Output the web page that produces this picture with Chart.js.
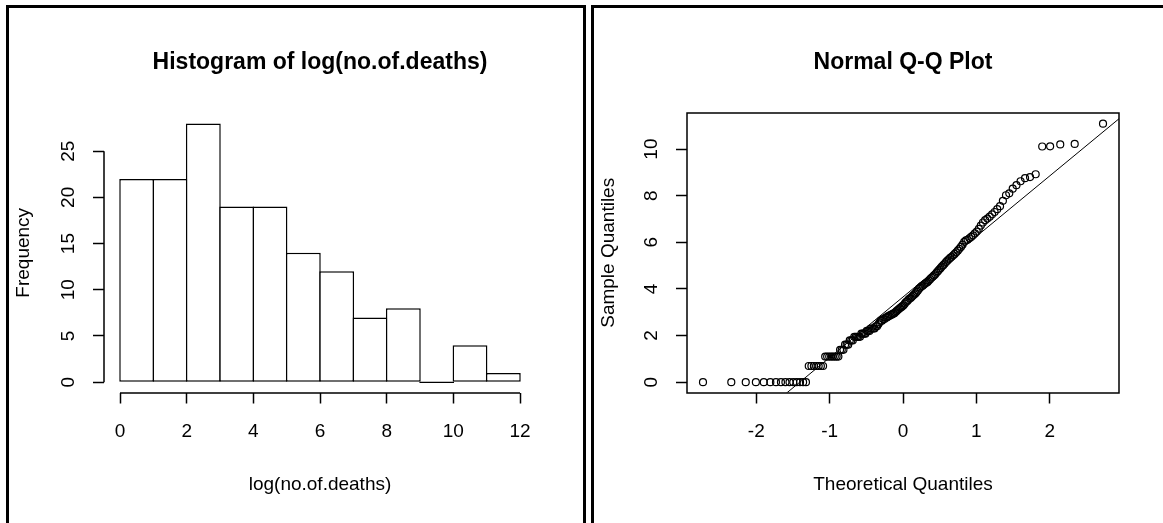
<!DOCTYPE html>
<html>
<head>
<meta charset="utf-8">
<script src="https://cdn.jsdelivr.net/npm/chart.js@4/dist/chart.umd.min.js"></script>
<style>
  html, body { margin: 0; padding: 0; background: #fff; overflow: hidden; }
  body { width: 1163px; height: 523px; position: relative; }
  .panel { position: absolute; top: 5px; height: 620px; border: 3px solid #000; box-sizing: border-box; }
  #panel-left { left: 6px; width: 580px; }
  #panel-right { left: 591px; width: 640px; }
  canvas { position: absolute; }
  #hist { left: 9px; top: 8px; }
  #qq { left: 594px; top: 8px; }
</style>
</head>
<body>
<div class="panel" id="panel-left"></div>
<div class="panel" id="panel-right"></div>
<canvas id="hist" width="574" height="515"></canvas>
<canvas id="qq" width="569" height="515"></canvas>
<script>
// histogram of log(no.of.deaths), bins of width 1
const binMids = [0.5, 1.5, 2.5, 3.5, 4.5, 5.5, 6.5, 7.5, 8.5, 9.5, 10.5, 11.5];
const frequency = [22, 22, 28, 19, 19, 14, 12, 7, 8, 0, 4, 1];
const histXTicks = [0, 2, 4, 6, 8, 10, 12];
const histYTicks = [0, 5, 10, 15, 20, 25];

// normal Q-Q plot (156 obs), theoretical vs sorted sample quantiles
const theoreticalQ = [
  -2.727, -2.341, -2.144, -2.006, -1.898, -1.809, -1.732, -1.664, -1.603, -1.547,
  -1.496, -1.449, -1.404, -1.362, -1.323, -1.285, -1.249, -1.215, -1.182, -1.150,
  -1.120, -1.090, -1.061, -1.034, -1.006, -0.980, -0.955, -0.930, -0.905, -0.881,
  -0.858, -0.835, -0.812, -0.790, -0.768, -0.747, -0.726, -0.705, -0.685, -0.664,
  -0.644, -0.625, -0.605, -0.586, -0.567, -0.549, -0.530, -0.512, -0.494, -0.476,
  -0.458, -0.440, -0.423, -0.405, -0.388, -0.370, -0.353, -0.336, -0.319, -0.302,
  -0.286, -0.269, -0.252, -0.236, -0.219, -0.203, -0.186, -0.170, -0.153, -0.137,
  -0.121, -0.105, -0.089, -0.072, -0.056, -0.040, -0.024, -0.008,
  0.008, 0.024, 0.040, 0.056, 0.072, 0.089, 0.105, 0.121, 0.137, 0.153,
  0.170, 0.186, 0.203, 0.219, 0.236, 0.252, 0.269, 0.286, 0.302, 0.319,
  0.336, 0.353, 0.370, 0.388, 0.405, 0.423, 0.440, 0.458, 0.476, 0.494,
  0.512, 0.530, 0.549, 0.567, 0.586, 0.605, 0.625, 0.644, 0.664, 0.685,
  0.705, 0.726, 0.747, 0.768, 0.790, 0.812, 0.835, 0.858, 0.881, 0.905,
  0.930, 0.955, 0.980, 1.006, 1.034, 1.061, 1.090, 1.120, 1.150, 1.182,
  1.215, 1.249, 1.285, 1.323, 1.362, 1.404, 1.449, 1.496, 1.547, 1.603,
  1.664, 1.732, 1.809, 1.898, 2.006, 2.144, 2.341, 2.727
];
const sampleQ = [
  0, 0, 0, 0, 0, 0, 0, 0, 0, 0, 0, 0, 0, 0, 0,
  0.693, 0.693, 0.693, 0.693, 0.693, 0.693, 0.693,
  1.099, 1.099, 1.099, 1.099, 1.099, 1.099, 1.099, 1.099,
  1.386, 1.386, 1.386, 1.609, 1.609, 1.609, 1.792, 1.792, 1.792,
  1.946, 1.946, 1.946, 1.946, 1.946,
  2.079, 2.079, 2.079, 2.079, 2.197, 2.197, 2.197, 2.303, 2.303, 2.303, 2.303,
  2.398, 2.398, 2.485, 2.565, 2.639, 2.639, 2.708, 2.708, 2.773, 2.773,
  2.833, 2.833, 2.890, 2.890, 2.944, 2.944, 2.996,
  3.045, 3.091, 3.135, 3.178, 3.219, 3.258, 3.296, 3.367, 3.434, 3.466,
  3.526, 3.584, 3.611, 3.664, 3.714, 3.761, 3.807, 3.871, 3.932,
  4.01, 4.06, 4.11, 4.14, 4.19, 4.23, 4.26, 4.30, 4.36, 4.42,
  4.48, 4.52, 4.58, 4.63, 4.70, 4.76, 4.83, 4.89, 4.96,
  5.02, 5.08, 5.15, 5.21, 5.27, 5.33, 5.38, 5.44, 5.50, 5.57, 5.64, 5.72, 5.80, 5.90,
  6.02, 6.08, 6.11, 6.17, 6.23, 6.30, 6.38, 6.46, 6.58, 6.72, 6.85, 6.95,
  7.02, 7.10, 7.20, 7.30, 7.42, 7.55, 7.78,
  8.02, 8.10, 8.30, 8.45, 8.62, 8.75, 8.80, 8.92,
  10.11, 10.12, 10.20, 10.22,
  11.09
];
// qqline end points (intercept 3.654, slope 2.597)
const qqLineX = [-3.2, 3.2];
const qqLineY = [-4.656, 11.964];
const qqXTicks = [-2, -1, 0, 1, 2];
const qqYTicks = [0, 2, 4, 6, 8, 10];

const FONT = "'Liberation Sans', Arial, Helvetica, sans-serif";
const ink = '#000';
const lw = 1.5;

// R-style axes: line only from first to last tick, or a full box
const rAxisLines = {
  id: 'rAxisLines',
  afterDraw(chart, args, opts) {
    const { ctx, chartArea: a, scales: { x, y } } = chart;
    const left = Math.round(a.left);
    const bottom = Math.round(a.bottom);
    ctx.save();
    ctx.strokeStyle = ink;
    ctx.lineWidth = lw;
    ctx.beginPath();
    if (opts.box) {
      const right = Math.round(a.right);
      const top = Math.round(a.top);
      ctx.rect(left, top, right - left, bottom - top);
    } else {
      const xt = x.ticks, yt = y.ticks;
      ctx.moveTo(left, y.getPixelForValue(yt[0].value));
      ctx.lineTo(left, y.getPixelForValue(yt[yt.length - 1].value));
      ctx.moveTo(x.getPixelForValue(xt[0].value), bottom);
      ctx.lineTo(x.getPixelForValue(xt[xt.length - 1].value), bottom);
    }
    ctx.stroke();
    ctx.restore();
  }
};

function xAxis(min, max, ticks, title) {
  return {
    type: 'linear', min: min, max: max, offset: false,
    afterBuildTicks: s => { s.ticks = ticks.map(v => ({ value: v })); },
    afterFit: s => { s.height = 130.5; },
    border: { display: false },
    grid: { drawOnChartArea: false, drawTicks: true, tickLength: 11, tickColor: ink, tickWidth: lw, offset: false },
    ticks: { color: ink, autoSkip: false, maxRotation: 0, minRotation: 0, padding: 17,
             font: { family: FONT, size: 19 } },
    title: { display: true, text: title, color: ink, padding: { top: 0, bottom: 26.6 },
             font: { family: FONT, size: 19 } }
  };
}

function yAxis(min, max, ticks, title, width) {
  return {
    type: 'linear', min: min, max: max,
    afterBuildTicks: s => { s.ticks = ticks.map(v => ({ value: v })); },
    afterFit: s => { s.width = width; },
    border: { display: false },
    grid: { drawOnChartArea: false, drawTicks: true, tickLength: 11, tickColor: ink, tickWidth: lw },
    ticks: { color: ink, minRotation: 90, maxRotation: 90, crossAlign: 'center', padding: 13.5,
             font: { family: FONT, size: 19 } },
    title: { display: true, text: title, color: ink, padding: { top: 3.6, bottom: 0 },
             font: { family: FONT, size: 19 } }
  };
}

function mainTitle(text) {
  return { display: true, text: text, color: ink, fullSize: false,
           padding: { top: 40.5, bottom: 37 },
           font: { family: FONT, size: 23, weight: 'bold' } };
}

new Chart(document.getElementById('hist'), {
  type: 'bar',
  data: {
    datasets: [{
      data: binMids.map((m, i) => ({ x: m, y: frequency[i] })),
      backgroundColor: '#fff',
      borderColor: ink,
      borderWidth: lw,
      borderSkipped: false,
      barPercentage: 1.045,
      categoryPercentage: 1,
      minBarLength: 1.5
    }]
  },
  options: {
    responsive: false,
    animation: false,
    events: [],
    layout: { padding: { left: 0, top: 0, right: 47, bottom: 0 } },
    plugins: {
      legend: { display: false },
      tooltip: { enabled: false },
      title: mainTitle('Histogram of log(no.of.deaths)'),
      rAxisLines: { box: false }
    },
    scales: {
      x: xAxis(-0.48, 12.48, histXTicks, 'log(no.of.deaths)'),
      y: yAxis(-1.12, 29.12, histYTicks, 'Frequency', 95)
    }
  },
  plugins: [rAxisLines]
});

new Chart(document.getElementById('qq'), {
  type: 'scatter',
  data: {
    datasets: [{
      type: 'scatter',
      data: theoreticalQ.map((t, i) => ({ x: t, y: sampleQ[i] })),
      pointStyle: 'circle',
      pointRadius: 3.5,
      pointBorderWidth: 1.2,
      pointBorderColor: ink,
      pointBackgroundColor: 'rgba(0,0,0,0)',
      borderColor: ink,
      backgroundColor: 'rgba(0,0,0,0)'
    }, {
      type: 'line',
      data: qqLineX.map((t, i) => ({ x: t, y: qqLineY[i] })),
      showLine: true,
      borderColor: ink,
      borderWidth: 1,
      pointRadius: 0,
      fill: false,
      tension: 0
    }]
  },
  options: {
    responsive: false,
    animation: false,
    events: [],
    layout: { padding: { left: 0, top: 0, right: 44, bottom: 0 } },
    plugins: {
      legend: { display: false },
      tooltip: { enabled: false },
      title: mainTitle('Normal Q-Q Plot'),
      rAxisLines: { box: true }
    },
    scales: {
      x: xAxis(-2.945, 2.945, qqXTicks, 'Theoretical Quantiles'),
      y: yAxis(-0.444, 11.544, qqYTicks, 'Sample Quantiles', 93)
    }
  },
  plugins: [rAxisLines]
});
</script>
</body>
</html>
